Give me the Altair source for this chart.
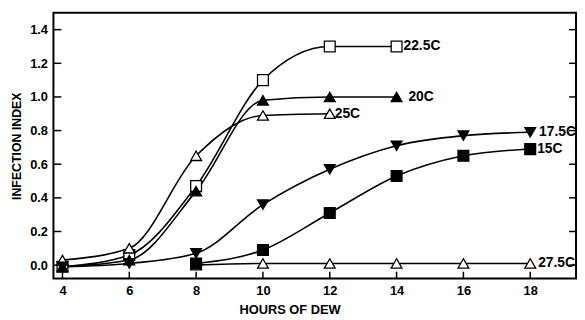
import altair as alt
import pandas as pd

# ---- data ----
series_names = ["27.5C", "22.5C", "20C", "25C", "17.5C", "15C"]
hours = {
    "27.5C": [8, 10, 12, 14, 16, 18],
    "22.5C": [4, 6, 8, 10, 12, 14],
    "20C":   [4, 6, 8, 10, 12, 14],
    "25C":   [4, 6, 8, 10, 12],
    "17.5C": [4, 6, 8, 10, 12, 14, 16, 18],
    "15C":   [8, 10, 12, 14, 16, 18],
}
index_vals = {
    "27.5C": [0.0, 0.01, 0.01, 0.01, 0.01, 0.01],
    "22.5C": [-0.01, 0.06, 0.47, 1.10, 1.30, 1.30],
    "20C":   [-0.01, 0.03, 0.44, 0.98, 1.00, 1.00],
    "25C":   [0.03, 0.10, 0.65, 0.89, 0.90],
    "17.5C": [-0.01, 0.01, 0.07, 0.36, 0.57, 0.71, 0.77, 0.79],
    "15C":   [0.01, 0.09, 0.31, 0.53, 0.65, 0.69],
}
shapes = ["triangle-up", "square", "triangle-up", "triangle-up", "triangle-down", "square"]
fills = ["white", "white", "black", "white", "black", "black"]
label_dx = [8, 7, 12, 5, 9, 7]

x_ticks = [4, 6, 8, 10, 12, 14, 16, 18]
y_ticks = [0.0, 0.2, 0.4, 0.6, 0.8, 1.0, 1.2, 1.4]

rows = []
for s in series_names:
    for h, v in zip(hours[s], index_vals[s]):
        rows.append({"series": s, "hours": h, "idx": v})
df = pd.DataFrame(rows)

W, H = 530, 269
FONT = "Liberation Sans"

xs = alt.Scale(domain=[3.73, 19.4], nice=False, zero=False)
ys = alt.Scale(domain=[-0.08, 1.5], nice=False, zero=False)

xaxis = alt.Axis(values=x_ticks, format="d", ticks=False, domain=False, grid=False,
                 labelOverlap=False,
                 labelFont=FONT, labelFontSize=13, labelFontWeight="bold",
                 labelColor="black", labelPadding=6,
                 title="HOURS OF DEW", titleFont=FONT, titleFontSize=13,
                 titleFontWeight="bold", titleColor="black", titleX=239,
                 titlePadding=6)
yaxis = alt.Axis(values=y_ticks, format=".1f", ticks=False, domain=False, grid=False,
                 labelOverlap=False,
                 labelFont=FONT, labelFontSize=13, labelFontWeight="bold",
                 labelColor="black", labelPadding=6,
                 title="INFECTION INDEX", titleFont=FONT, titleFontSize=12.5,
                 titleFontWeight="bold", titleColor="black", titlePadding=6)


def X(field):
    return alt.X(field, scale=xs, axis=xaxis, title="HOURS OF DEW")


def Y(field):
    return alt.Y(field, scale=ys, axis=yaxis, title="INFECTION INDEX")


base = alt.Chart(df)

lines = base.mark_line(color="black", strokeWidth=1.6, interpolate="monotone").encode(
    x=X("hours:Q"), y=Y("idx:Q"), detail="series:N",
)

points = base.mark_point(filled=True, stroke="black", strokeWidth=1.3, size=120, opacity=1).encode(
    x=X("hours:Q"), y=Y("idx:Q"),
    shape=alt.Shape("series:N", scale=alt.Scale(domain=series_names, range=shapes), legend=None),
    fill=alt.Fill("series:N", scale=alt.Scale(domain=series_names, range=fills), legend=None),
)

label_layers = []
for s, d in zip(series_names, label_dx):
    one = pd.DataFrame({"series": [s], "hours": [hours[s][-1]], "idx": [index_vals[s][-1]]})
    label_layers.append(
        alt.Chart(one).mark_text(align="left", baseline="middle", font=FONT, fontSize=14,
                                 fontWeight="bold", color="black", dx=int(d)).encode(
            x=X("hours:Q"), y=Y("idx:Q"), text="series:N",
        )
    )

ydf = pd.DataFrame({"idx": y_ticks})
xdf = pd.DataFrame({"hours": x_ticks})
left_ticks = alt.Chart(ydf).mark_rule(color="black", strokeWidth=1.5).encode(
    y=Y("idx:Q"), x=alt.value(0), x2=alt.value(8))
right_ticks = alt.Chart(ydf).mark_rule(color="black", strokeWidth=1.5).encode(
    y=Y("idx:Q"), x=alt.value(W - 8), x2=alt.value(W))
bottom_ticks = alt.Chart(xdf).mark_rule(color="black", strokeWidth=1.5).encode(
    x=X("hours:Q"), y=alt.value(H - 7), y2=alt.value(H))

frame = alt.Chart(pd.DataFrame({"k": [0]})).mark_rect(
    fill=None, stroke="black", strokeWidth=2).encode(
    x=alt.value(0), x2=alt.value(W - 1), y=alt.value(0), y2=alt.value(H))

chart = alt.layer(lines, frame, left_ticks, right_ticks, bottom_ticks, points, *label_layers).properties(
    width=W, height=H,
    background="white",
    padding={"left": 46, "top": 3, "right": 0, "bottom": 38},
    autosize=alt.AutoSizeParams(type="none"),
).configure_view(stroke=None)

chart.save("out.html", embed_options={"renderer": "svg", "actions": False})
